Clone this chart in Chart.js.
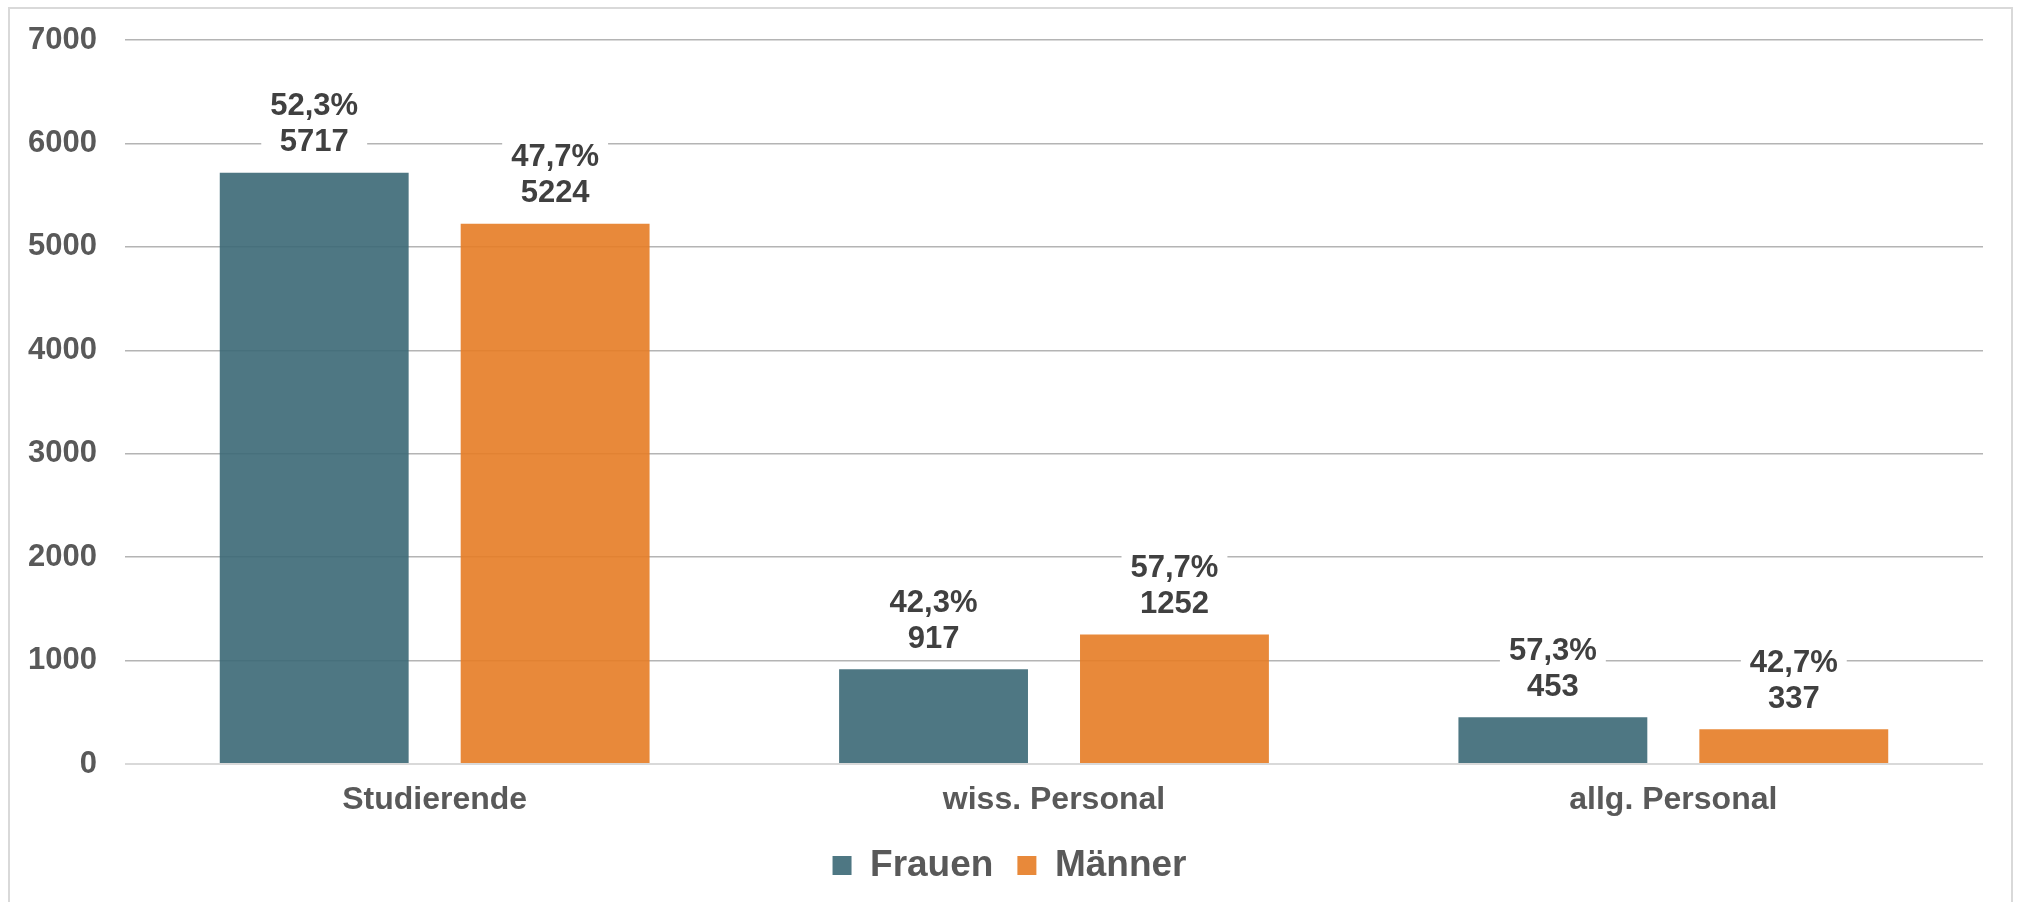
<!DOCTYPE html>
<html>
<head>
<meta charset="utf-8">
<script src="https://cdn.jsdelivr.net/npm/chart.js@4.4.1/dist/chart.umd.min.js"></script>
<style>
  html, body { margin: 0; padding: 0; background: #ffffff; }
  #wrap { position: relative; width: 2019px; height: 902px; }
</style>
</head>
<body>
<div id="wrap"><canvas id="c" width="2019" height="902"></canvas></div>
<script>
const categories = ["Studierende", "wiss. Personal", "allg. Personal"];
const seriesNames = ["Frauen", "Männer"];
const frauenValues = [5717, 917, 453];
const maennerValues = [5224, 1252, 337];
const frauenShares = ["52,3%", "42,3%", "57,3%"];
const maennerShares = ["47,7%", "57,7%", "42,7%"];
const yTicks = [0, 1000, 2000, 3000, 4000, 5000, 6000, 7000];

const FONT = "'Liberation Sans', Arial, sans-serif";
const shareLabels = [frauenShares, maennerShares];

const framePlugin = {
  id: 'frame',
  beforeDraw(chart) {
    const ctx = chart.ctx;
    ctx.save();
    ctx.fillStyle = '#ffffff';
    ctx.fillRect(0, 0, chart.width, chart.height);
    ctx.strokeStyle = '#d9d9d9';
    ctx.lineWidth = 2;
    ctx.strokeRect(9, 8, 2003, 1000);
    ctx.restore();
  }
};

const labelPlugin = {
  id: 'barLabels',
  afterDatasetsDraw(chart) {
    const ctx = chart.ctx;
    ctx.save();
    ctx.font = "bold 31px " + FONT;
    ctx.textAlign = 'center';
    ctx.textBaseline = 'middle';
    chart.data.datasets.forEach((ds, di) => {
      const meta = chart.getDatasetMeta(di);
      meta.data.forEach((bar, i) => {
        const pct = shareLabels[di][i];
        const val = String(ds.data[i]);
        const x = bar.x;
        const yVal = bar.y - 30;
        const yPct = bar.y - 66;
        const w = Math.max(ctx.measureText(pct).width, ctx.measureText(val).width);
        ctx.fillStyle = '#ffffff';
        ctx.fillRect(x - w / 2 - 9, yPct - 20, w + 18, (yVal + 18) - (yPct - 20));
        ctx.fillStyle = '#404040';
        ctx.fillText(pct, x, yPct);
        ctx.fillText(val, x, yVal);
      });
    });
    ctx.restore();
  }
};

new Chart(document.getElementById('c'), {
  type: 'bar',
  data: {
    labels: categories,
    datasets: [
      { label: seriesNames[0], data: frauenValues, backgroundColor: 'rgba(59,104,118,0.9)', borderWidth: 0 },
      { label: seriesNames[1], data: maennerValues, backgroundColor: 'rgba(229,124,37,0.9)', borderWidth: 0 }
    ]
  },
  options: {
    responsive: false,
    animation: false,
    devicePixelRatio: 1,
    layout: { padding: { top: 40, left: 0, right: 0, bottom: 8 } },
    datasets: { bar: { categoryPercentage: 0.778, barPercentage: 0.784 } },
    plugins: {
      legend: {
        position: 'bottom',
        labels: {
          boxWidth: 19, boxHeight: 19, padding: 24,
          color: '#595959',
          font: { family: FONT, size: 37, weight: 'bold' }
        }
      },
      tooltip: { enabled: false }
    },
    scales: {
      x: {
        afterFit(scale) { scale.height = 59; },
        grid: { display: false, drawTicks: false },
        border: { display: false },
        ticks: { color: '#595959', padding: 17, font: { family: FONT, size: 32, weight: 'bold' } }
      },
      y: {
        min: 0, max: 7000,
        afterBuildTicks(scale) { scale.ticks = yTicks.map(v => ({ value: v })); },
        afterFit(scale) { scale.width = 125; scale.paddingTop = 0; scale.paddingBottom = 0; },
        grid: {
          drawTicks: false,
          color: (c) => c.tick && c.tick.value === 0 ? '#d9d9d9' : '#b4b4b4',
          lineWidth: (c) => c.tick && c.tick.value === 0 ? 2 : 1.5
        },
        border: { display: false },
        ticks: {
          color: '#595959', padding: 28,
          font: { family: FONT, size: 31, weight: 'bold' },
          callback: (v) => String(v)
        }
      },
      yr: {
        position: 'right',
        display: true,
        afterFit(scale) { scale.width = 36; },
        grid: { display: false, drawTicks: false },
        border: { display: false },
        ticks: { display: false }
      }
    }
  },
  plugins: [framePlugin, labelPlugin]
});
</script>
</body>
</html>
